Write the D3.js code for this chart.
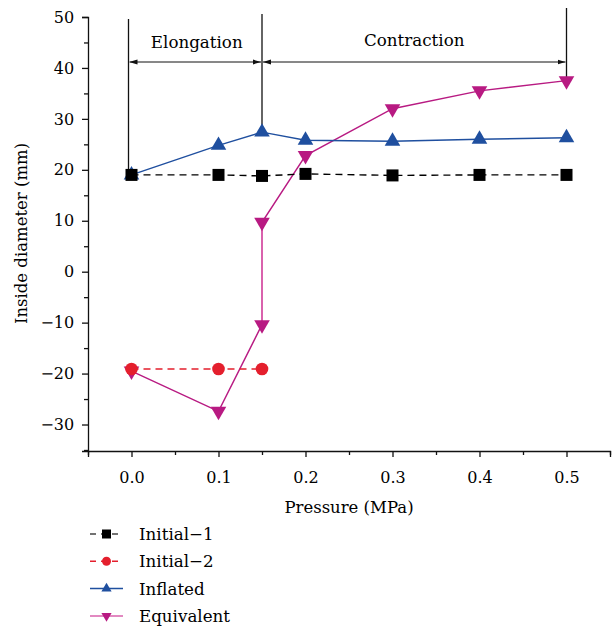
<!DOCTYPE html>
<html>
<head>
<meta charset="utf-8">
<script src="https://cdn.jsdelivr.net/npm/d3@7"></script>
<style>
  body { margin: 0; background: #fff; }
  text { font-family: "DejaVu Serif", "Liberation Serif", serif; fill: #000; }
</style>
</head>
<body>
<div id="chart"></div>
<script>
var svgWidth = 613;
var svgHeight = 628;

// data
var init1X = [0, 0.1, 0.15, 0.2, 0.3, 0.4, 0.5];
var init1Y = [19.0, 19.0, 18.8, 19.2, 18.9, 19.0, 19.0];
var init2X = [0, 0.1, 0.15];
var init2Y = [-19.1, -19.1, -19.1];
var inflX = [0, 0.1, 0.15, 0.2, 0.3, 0.4, 0.5];
var inflY = [19.0, 24.8, 27.4, 25.8, 25.6, 26.0, 26.3];
var equivX = [0, 0.1, 0.15, 0.15, 0.2, 0.3, 0.4, 0.5];
var equivY = [-19.5, -27.4, -10.4, 9.7, 22.8, 32.0, 35.5, 37.5];
var xTicks = [0, 0.1, 0.2, 0.3, 0.4, 0.5];
var yTicks = [-30, -20, -10, 0, 10, 20, 30, 40, 50];
var stageNames = ["Elongation", "Contraction"];
var stageBounds = [0, 0.15, 0.5];

var margin = { left: 88, top: 17, right: 4 };
var plotBottom = 451;

var svg = d3.select("#chart").append("svg")
  .attr("width", svgWidth)
  .attr("height", svgHeight);

var x = d3.scaleLinear().domain([-0.05, 0.55]).range([margin.left, 610]);
var y = d3.scaleLinear().domain([-35.2, 50]).range([plotBottom, margin.top]);

// axes
var xAxis = svg.append("g")
  .attr("transform", `translate(0, ${plotBottom})`)
  .call(d3.axisBottom(x).tickValues(xTicks).tickFormat(d3.format(".1f")).tickSizeOuter(0).tickSize(6));
var xMinor = svg.append("g")
  .attr("transform", `translate(0, ${plotBottom})`)
  .call(d3.axisBottom(x).tickValues([-0.05, 0.05, 0.15, 0.25, 0.35, 0.45, 0.55]).tickFormat("").tickSizeOuter(0).tickSize(4));
xMinor.select(".domain").remove();

var yAxis = svg.append("g")
  .attr("transform", `translate(${margin.left}, 0)`)
  .call(d3.axisLeft(y).tickValues(yTicks).tickFormat(d3.format("d")).tickSizeOuter(0).tickSize(6));
var yMinor = svg.append("g")
  .attr("transform", `translate(${margin.left}, 0)`)
  .call(d3.axisLeft(y).tickValues([-35, -25, -15, -5, 5, 15, 25, 35, 45]).tickFormat("").tickSizeOuter(0).tickSize(4));
yMinor.select(".domain").remove();

svg.selectAll(".domain, .tick line").attr("stroke", "#111").attr("stroke-width", 1.3);
xAxis.selectAll(".tick text").attr("font-size", 16).attr("y", 32).attr("dy", 0);
yAxis.selectAll(".tick text").attr("font-size", 16).attr("dx", "-0.3em")
  .text(d => d < 0 ? "\u2212" + Math.abs(d) : d);

svg.append("text")
  .attr("x", x(0.25)).attr("y", 513)
  .attr("text-anchor", "middle").attr("font-size", 16.5)
  .text("Pressure (MPa)");
svg.append("text")
  .attr("transform", `translate(27, ${y(7.5)}) rotate(-90)`)
  .attr("text-anchor", "middle").attr("font-size", 16.5)
  .text("Inside diameter (mm)");

// stage annotation
var defs = svg.append("defs");
defs.append("marker").attr("id", "arr")
  .attr("viewBox", "0 0 10 10").attr("refX", 10).attr("refY", 5)
  .attr("markerWidth", 8).attr("markerHeight", 8).attr("orient", "auto-start-reverse")
  .attr("markerUnits", "userSpaceOnUse")
  .append("path").attr("d", "M0,2 L10,5 L0,8 Z").attr("fill", "#111");

var vTops = [19, 14, 8];
var vBottoms = [y(19.0), y(27.4), y(37.5)];
stageBounds.forEach(function(b, i) {
  svg.append("line")
    .attr("x1", x(b) - (i == 0 ? 3 : 0)).attr("x2", x(b) - (i == 0 ? 3 : 0))
    .attr("y1", vTops[i]).attr("y2", vBottoms[i])
    .attr("stroke", "#111").attr("stroke-width", 1.3);
});
var arrowY = 62;
stageNames.forEach(function(name, i) {
  svg.append("line")
    .attr("x1", x(stageBounds[i]) + (i == 0 ? -2 : 1)).attr("x2", x(stageBounds[i + 1]) - 1)
    .attr("y1", arrowY).attr("y2", arrowY)
    .attr("stroke", "#111").attr("stroke-width", 1)
    .attr("marker-start", "url(#arr)").attr("marker-end", "url(#arr)");
  svg.append("text")
    .attr("x", (x(stageBounds[i]) + x(stageBounds[i + 1])) / 2)
    .attr("y", i == 0 ? 48 : 46)
    .attr("text-anchor", "middle").attr("font-size", 16.7)
    .text(name);
});

// series
var line = d3.line().x(d => x(d[0])).y(d => y(d[1]));
var zip = (xs, ys) => xs.map((v, i) => [v, ys[i]]);

var tri = d3.symbol().type(d3.symbolTriangle).size(105);

function drawSeries(pts, color, dash, shape, seg) {
  var g = svg.append("g");
  g.append("path").datum(pts)
    .attr("d", line).attr("fill", "none")
    .attr("stroke", color).attr("stroke-width", 1.4)
    .attr("stroke-dasharray", dash);
  if (seg) {
    g.append("path").datum(seg)
      .attr("d", line).attr("fill", "none")
      .attr("stroke", "#d962ad").attr("stroke-width", 2);
  }
  var m = g.selectAll(".m").data(pts).enter();
  if (shape == "square") {
    m.append("rect")
      .attr("x", d => x(d[0]) - 6).attr("y", d => y(d[1]) - 6)
      .attr("width", 12).attr("height", 12).attr("fill", color);
  } else if (shape == "circle") {
    m.append("circle")
      .attr("cx", d => x(d[0])).attr("cy", d => y(d[1]))
      .attr("r", 6.3).attr("fill", color);
  } else {
    m.append("path")
      .attr("d", tri)
      .attr("transform", d => `translate(${x(d[0])}, ${y(d[1])}) rotate(${shape == "down" ? 180 : 0})`)
      .attr("fill", color);
  }
}

var equivPts = zip(equivX, equivY);
drawSeries(zip(equivX, equivY), "#b81a82", null, "down", equivPts.slice(2, 4));
drawSeries(zip(inflX, inflY), "#1f4f9f", null, "up");
drawSeries(zip(init1X, init1Y), "#000", "7,5", "square");
drawSeries(zip(init2X, init2Y), "#e41f2d", "7,5", "circle");

// legend
var legendItems = [
  { name: "Initial\u22121", color: "#000", lineColor: "#444", dash: "6,5", shape: "square" },
  { name: "Initial\u22122", color: "#e41f2d", lineColor: "#e41f2d", dash: "6,5", shape: "circle" },
  { name: "Inflated", color: "#1f4f9f", lineColor: "#1f4f9f", dash: null, shape: "up" },
  { name: "Equivalent", color: "#b81a82", lineColor: "#d962ad", dash: null, shape: "down" }
];
var legend = svg.append("g");
legendItems.forEach(function(it, i) {
  var ly = 534 + i * 27.3;
  var row = legend.append("g");
  row.append("line")
    .attr("x1", 90).attr("x2", 123).attr("y1", ly).attr("y2", ly)
    .attr("stroke", it.lineColor).attr("stroke-width", 1.5)
    .attr("stroke-dasharray", it.dash);
  if (it.shape == "square") {
    row.append("rect").attr("x", 102).attr("y", ly - 4.5).attr("width", 9).attr("height", 9).attr("fill", it.color);
  } else if (it.shape == "circle") {
    row.append("circle").attr("cx", 106.5).attr("cy", ly).attr("r", 4.5).attr("fill", it.color);
  } else {
    row.append("path")
      .attr("d", d3.symbol().type(d3.symbolTriangle).size(45))
      .attr("transform", `translate(106.5, ${ly}) rotate(${it.shape == "down" ? 180 : 0})`)
      .attr("fill", it.color);
  }
  row.append("text")
    .attr("x", 139).attr("y", ly + 6)
    .attr("font-size", 16.7)
    .text(it.name);
});
</script>
</body>
</html>
